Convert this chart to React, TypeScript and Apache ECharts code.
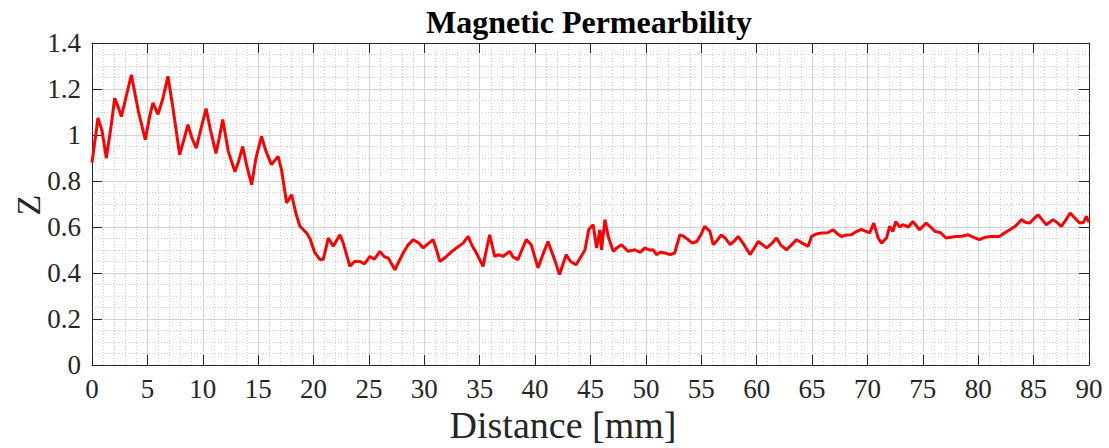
import React, { useEffect, useRef } from "react";
import * as echarts from "echarts";

const titleText = "Magnetic Permearbility";
const xName = "Distance [mm]";
const yName = "Z";

const distance: number[] = [
  0, 0.54, 0.9, 1.29, 1.7, 2.05, 2.3, 2.65, 3.0, 3.55, 4.2, 4.81, 5.2, 5.5, 5.96, 6.4, 6.86, 7.3, 7.91, 8.3,
  8.66, 9.0, 9.41, 9.9, 10.3, 10.7, 11.19, 11.5, 11.8, 12.3, 12.9, 13.2, 13.6, 14.0, 14.41, 14.8, 15.3, 15.7, 16.2, 16.8,
  17.1, 17.57, 18.02, 18.4, 18.77, 19.37, 19.67, 20.1, 20.58, 20.88, 21.33, 21.78, 22.38, 22.68, 23.28, 23.7, 24.19, 24.6, 25.09, 25.5,
  25.99, 26.4, 26.74, 27.34, 27.7, 28.09, 28.5, 29.0, 29.5, 29.9, 30.4, 30.8, 31.1, 31.4, 32.0, 32.4, 32.9, 33.5, 33.95, 34.3,
  34.7, 35.3, 35.6, 35.9, 36.35, 36.7, 37.1, 37.7, 38.0, 38.45, 38.8, 39.2, 39.65, 40.26, 40.7, 41.16, 41.76, 42.2, 42.8, 43.2,
  43.7, 44.15, 44.5, 44.85, 45.24, 45.55, 45.85, 46.0, 46.3, 46.6, 47.05, 47.4, 47.8, 48.4, 49.0, 49.5, 49.9, 50.3, 50.66, 50.96,
  51.3, 51.7, 52.2, 52.6, 53.06, 53.4, 53.8, 54.2, 54.6, 55.0, 55.3, 55.78, 56.08, 56.4, 56.8, 57.2, 57.6, 58.0, 58.33, 58.9,
  59.4, 59.8, 60.14, 60.9, 61.4, 61.8, 62.2, 62.7, 63.1, 63.6, 64.1, 64.65, 64.95, 65.4, 65.85, 66.4, 66.9, 67.3, 67.65, 68.1,
  68.55, 69.0, 69.45, 70.2, 70.57, 70.97, 71.27, 71.72, 72.0, 72.3, 72.56, 72.9, 73.2, 73.7, 74.1, 74.7, 75.3, 75.7, 76.1, 76.6,
  77.1, 77.5, 78.0, 78.5, 79.1, 79.6, 80.1, 80.6, 81.2, 81.9, 82.4, 82.85, 83.4, 83.9, 84.3, 84.65, 85.0, 85.4, 85.8, 86.15,
  86.75, 87.1, 87.5, 87.9, 88.3, 88.7, 89.15, 89.5, 89.76, 90,
];

const permeability: number[] = [
  0.88, 1.074, 1.02, 0.9, 1.03, 1.16, 1.13, 1.08, 1.15, 1.262, 1.1, 0.98, 1.08, 1.14, 1.09, 1.16, 1.255, 1.12, 0.914, 0.98,
  1.045, 0.99, 0.943, 1.04, 1.115, 1.02, 0.92, 0.99, 1.067, 0.93, 0.84, 0.88, 0.95, 0.86, 0.784, 0.9, 0.994, 0.93, 0.871, 0.907,
  0.85, 0.704, 0.74, 0.66, 0.603, 0.574, 0.55, 0.49, 0.458, 0.46, 0.552, 0.516, 0.566, 0.53, 0.429, 0.45, 0.45, 0.44, 0.472, 0.46,
  0.494, 0.47, 0.465, 0.414, 0.45, 0.487, 0.52, 0.545, 0.53, 0.509, 0.53, 0.545, 0.5, 0.45, 0.472, 0.49, 0.509, 0.53, 0.559, 0.52,
  0.487, 0.429, 0.5, 0.566, 0.472, 0.48, 0.472, 0.494, 0.47, 0.458, 0.5, 0.545, 0.523, 0.422, 0.48, 0.537, 0.458, 0.393, 0.48, 0.45,
  0.436, 0.472, 0.5, 0.59, 0.61, 0.509, 0.588, 0.501, 0.632, 0.559, 0.494, 0.51, 0.523, 0.494, 0.501, 0.49, 0.509, 0.5, 0.501, 0.48,
  0.49, 0.487, 0.48, 0.487, 0.566, 0.56, 0.545, 0.53, 0.537, 0.57, 0.603, 0.581, 0.523, 0.54, 0.566, 0.55, 0.523, 0.54, 0.559, 0.52,
  0.48, 0.51, 0.537, 0.509, 0.53, 0.552, 0.52, 0.501, 0.52, 0.545, 0.53, 0.516, 0.559, 0.57, 0.574, 0.575, 0.588, 0.57, 0.559, 0.565,
  0.566, 0.58, 0.59, 0.574, 0.617, 0.552, 0.53, 0.552, 0.603, 0.581, 0.624, 0.6, 0.61, 0.6, 0.624, 0.588, 0.617, 0.6, 0.581, 0.575,
  0.552, 0.555, 0.559, 0.56, 0.566, 0.555, 0.545, 0.555, 0.559, 0.559, 0.575, 0.588, 0.605, 0.632, 0.62, 0.617, 0.635, 0.653, 0.63, 0.61,
  0.632, 0.62, 0.603, 0.63, 0.661, 0.64, 0.617, 0.62, 0.646, 0.62,
];

const FONT = "'Liberation Serif', 'Times New Roman', serif";
const AXIS_COLOR = "#262626";

export default function App() {
  const ref = useRef<HTMLDivElement>(null);

  useEffect(() => {
    document.body.style.margin = "0";
    if (!ref.current) return;
    const chart = echarts.init(ref.current, undefined, { renderer: "svg" });
    const fmt = (v: number) => String(Math.round(v * 10) / 10);

    const baseAxis = {
      axisLine: { show: true, onZero: false, lineStyle: { color: AXIS_COLOR, width: 1 } },
      axisTick: { show: true, inside: true, length: 10, lineStyle: { color: AXIS_COLOR, width: 1 } },
    };

    chart.setOption({
      animation: false,
      backgroundColor: "#ffffff",
      grid: { left: 92, right: 20, top: 43, bottom: 83, containLabel: false },
      graphic: [
        {
          type: "text",
          x: 589,
          y: 22,
          style: {
            text: titleText,
            fill: "#000",
            font: `bold 32px ${FONT}`,
            textAlign: "center",
            textVerticalAlign: "middle",
          },
        },
        {
          type: "text",
          x: 563,
          y: 425,
          style: {
            text: xName,
            fill: "#262626",
            font: `38px ${FONT}`,
            textAlign: "center",
            textVerticalAlign: "middle",
          },
        },
        {
          type: "text",
          x: 28,
          y: 205,
          rotation: Math.PI / 2,
          style: {
            text: yName,
            fill: "#262626",
            font: `34px ${FONT}`,
            textAlign: "center",
            textVerticalAlign: "middle",
          },
        },
      ],
      xAxis: [
        {
          type: "value",
          min: 0,
          max: 90,
          interval: 5,
          position: "bottom",
          ...baseAxis,
          axisLabel: { show: true, color: "#262626", fontFamily: FONT, fontSize: 27, margin: 10, formatter: fmt },
          splitLine: { show: true, lineStyle: { color: "#d4d4d4", width: 1 } },
          minorTick: { show: false, splitNumber: 5 },
          minorSplitLine: { show: true, lineStyle: { color: "#d0d0d0", width: 1, type: [1, 2] } },
        },
        {
          type: "value",
          min: 0,
          max: 90,
          interval: 5,
          position: "top",
          ...baseAxis,
          axisLabel: { show: false },
          splitLine: { show: false },
        },
      ],
      yAxis: [
        {
          type: "value",
          min: 0,
          max: 1.4,
          interval: 0.2,
          position: "left",
          ...baseAxis,
          axisLabel: { show: true, color: "#262626", fontFamily: FONT, fontSize: 27, margin: 11, formatter: fmt },
          splitLine: { show: true, lineStyle: { color: "#d4d4d4", width: 1 } },
          minorTick: { show: false, splitNumber: 4 },
          minorSplitLine: { show: true, lineStyle: { color: "#d0d0d0", width: 1, type: [1, 2] } },
        },
        {
          type: "value",
          min: 0,
          max: 1.4,
          interval: 0.2,
          position: "right",
          ...baseAxis,
          axisLabel: { show: false },
          splitLine: { show: false },
        },
      ],
      series: [
        {
          type: "line",
          xAxisIndex: 0,
          yAxisIndex: 0,
          data: distance.map((d, i) => [d, permeability[i]]),
          showSymbol: false,
          symbol: "none",
          lineStyle: { color: "#ff0000", width: 3 },
        },
      ],
    });

    return () => chart.dispose();
  }, []);

  return <div ref={ref} style={{ width: 1109, height: 448 }} />;
}
